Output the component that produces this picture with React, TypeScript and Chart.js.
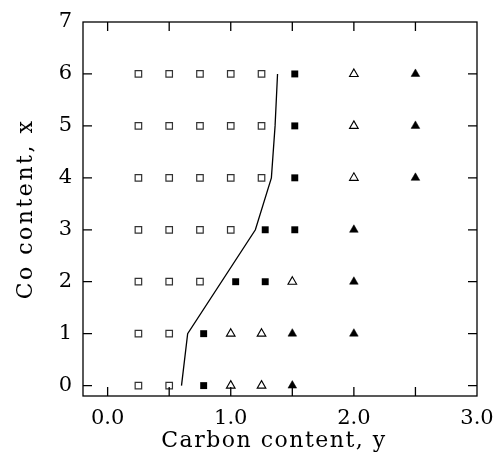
import { useEffect, useRef } from 'react';
import { Chart, registerables } from 'chart.js';
Chart.register(...registerables);

// Carbon content (y) positions per Co content row (x)
const openSquares = [
  { x: 0.25, y: 0 }, { x: 0.5, y: 0 },
  { x: 0.25, y: 1 }, { x: 0.5, y: 1 },
  { x: 0.25, y: 2 }, { x: 0.5, y: 2 }, { x: 0.75, y: 2 },
  { x: 0.25, y: 3 }, { x: 0.5, y: 3 }, { x: 0.75, y: 3 }, { x: 1.0, y: 3 },
  { x: 0.25, y: 4 }, { x: 0.5, y: 4 }, { x: 0.75, y: 4 }, { x: 1.0, y: 4 }, { x: 1.25, y: 4 },
  { x: 0.25, y: 5 }, { x: 0.5, y: 5 }, { x: 0.75, y: 5 }, { x: 1.0, y: 5 }, { x: 1.25, y: 5 },
  { x: 0.25, y: 6 }, { x: 0.5, y: 6 }, { x: 0.75, y: 6 }, { x: 1.0, y: 6 }, { x: 1.25, y: 6 },
];
const filledSquares = [
  { x: 0.78, y: 0 }, { x: 0.78, y: 1 },
  { x: 1.04, y: 2 }, { x: 1.28, y: 2 },
  { x: 1.28, y: 3 }, { x: 1.52, y: 3 },
  { x: 1.52, y: 4 }, { x: 1.52, y: 5 }, { x: 1.52, y: 6 },
];
const openTriangles = [
  { x: 1.0, y: 0 }, { x: 1.25, y: 0 },
  { x: 1.0, y: 1 }, { x: 1.25, y: 1 },
  { x: 1.5, y: 2 },
  { x: 2.0, y: 4 }, { x: 2.0, y: 5 }, { x: 2.0, y: 6 },
];
const filledTriangles = [
  { x: 1.5, y: 0 },
  { x: 1.5, y: 1 }, { x: 2.0, y: 1 },
  { x: 2.0, y: 2 }, { x: 2.0, y: 3 },
  { x: 2.5, y: 4 }, { x: 2.5, y: 5 }, { x: 2.5, y: 6 },
];
const boundaryCarbon = [0.6, 0.65, 1.2, 1.33, 1.36, 1.38];
const boundaryCo = [0, 1, 3, 4, 5, 6];

const xTitle = 'Carbon content, y';
const yTitle = 'Co content, x';
const FONT = '"DejaVu Serif"';

const framePlugin = {
  id: 'frameTicks',
  afterDraw(chart: any) {
    const { ctx, chartArea: a, scales } = chart;
    ctx.save();
    ctx.strokeStyle = '#000';
    ctx.lineWidth = 1.3;
    ctx.strokeRect(a.left, a.top, a.right - a.left, a.bottom - a.top);
    const tl = 9;
    ctx.beginPath();
    scales.x.ticks.forEach((t: any) => {
      const px = scales.x.getPixelForValue(t.value);
      if (px <= a.left + 1 || px >= a.right - 1) return;
      ctx.moveTo(px, a.bottom); ctx.lineTo(px, a.bottom - tl);
      ctx.moveTo(px, a.top); ctx.lineTo(px, a.top + tl);
    });
    scales.y.ticks.forEach((t: any) => {
      const py = scales.y.getPixelForValue(t.value);
      if (py <= a.top + 1 || py >= a.bottom - 1) return;
      ctx.moveTo(a.left, py); ctx.lineTo(a.left + tl, py);
      ctx.moveTo(a.right, py); ctx.lineTo(a.right - tl, py);
    });
    ctx.stroke();

    ctx.fillStyle = '#000';
    ctx.font = `22px ${FONT}`;
    (ctx as any).letterSpacing = '1.5px';
    ctx.textAlign = 'center';
    ctx.textBaseline = 'alphabetic';
    ctx.fillText(xTitle, (a.left + a.right) / 2 - 6, 447);
    (ctx as any).letterSpacing = '2.5px';
    ctx.translate(32, (a.top + a.bottom) / 2);
    ctx.rotate(-Math.PI / 2);
    ctx.fillText(yTitle, 0, 0);
    ctx.restore();
  },
};

export default function App() {
  const ref = useRef<HTMLCanvasElement>(null);
  useEffect(() => {
    document.body.style.margin = '0';
    const chart = new Chart(ref.current!, {
      type: 'scatter',
      data: {
        datasets: [
          {
            data: boundaryCarbon.map((c, i) => ({ x: c, y: boundaryCo[i] })),
            showLine: true,
            borderColor: '#000',
            borderWidth: 1.3,
            pointRadius: 0,
            fill: false,
          } as any,
          {
            data: openSquares,
            pointStyle: 'rect',
            pointRadius: 4.6,
            borderColor: '#333',
            borderWidth: 1.2,
            backgroundColor: '#fff',
          },
          {
            data: filledSquares,
            pointStyle: 'rect',
            pointRadius: 4.9,
            borderColor: '#000',
            borderWidth: 0,
            backgroundColor: '#000',
          },
          {
            data: openTriangles,
            pointStyle: 'triangle',
            pointRadius: 5,
            borderColor: '#000',
            borderWidth: 1.1,
            backgroundColor: '#fff',
          },
          {
            data: filledTriangles,
            pointStyle: 'triangle',
            pointRadius: 5,
            borderColor: '#000',
            borderWidth: 0.5,
            backgroundColor: '#000',
          },
        ],
      },
      options: {
        responsive: false,
        animation: false,
        events: [],
        layout: { padding: { top: 22, right: 17, left: 0, bottom: 0 } },
        plugins: { legend: { display: false }, tooltip: { enabled: false } },
        scales: {
          x: {
            type: 'linear',
            min: -0.2,
            max: 3.0,
            grid: { display: false, drawTicks: false },
            border: { display: false },
            ticks: {
              stepSize: 0.5,
              includeBounds: false,
              autoSkip: false,
              maxRotation: 0,
              padding: 10,
              color: '#000',
              font: { family: FONT, size: 21 },
              callback: (v: any) => (Math.abs(v - Math.round(v)) < 1e-6 ? Number(v).toFixed(1) : ''),
            },
            afterFit: (s: any) => { s.height = 56; s.paddingLeft = 0; s.paddingRight = 0; },
          },
          y: {
            type: 'linear',
            min: -0.2,
            max: 7,
            grid: { display: false, drawTicks: false },
            border: { display: false },
            ticks: {
              stepSize: 1,
              includeBounds: false,
              autoSkip: false,
              padding: 11,
              color: '#000',
              font: { family: FONT, size: 21 },
              callback: (v: any) => String(Math.round(v)),
            },
            afterFit: (s: any) => { s.width = 83; s.paddingTop = 0; s.paddingBottom = 0; },
          },
        },
      },
      plugins: [framePlugin],
    });
    return () => chart.destroy();
  }, []);
  return (
    <div style={{ width: 494, height: 452 }}>
      <canvas ref={ref} width={494} height={452} style={{ display: 'block' }} />
    </div>
  );
}
